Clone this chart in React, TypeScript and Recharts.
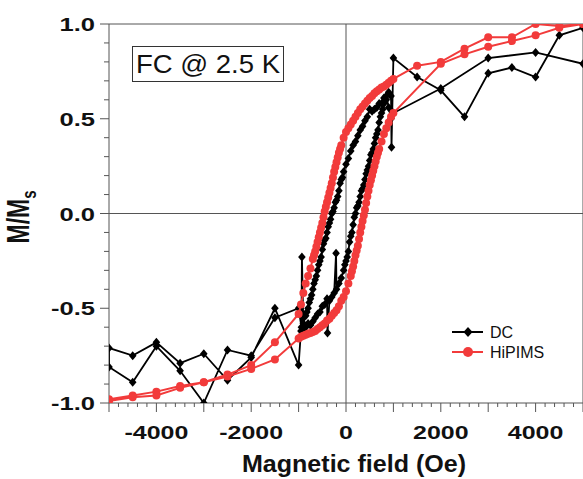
import React from 'react'
import { ScatterChart, Scatter, XAxis, YAxis, ReferenceLine, Legend } from 'recharts'

const RED = '#f23b3b'
const AXIS = '#555'
const FONT = '"Liberation Sans", Arial, sans-serif'

// DC film: descending branch (+5000 -> -5000)
const DC_DOWN_H = [5000, 4500, 4000, 3500, 3000, 2500, 2000, 1500, 1000, 960, 950, 900, 850, 800, 750, 700, 650, 600, 550, 500, 450, 400, 350, 300, 250, 200, 150, 100, 50, 0, -50, -75, -100, -125, -150, -175, -200, -225, -250, -275, -300, -325, -350, -375, -400, -425, -450, -475, -500, -525, -550, -575, -600, -625, -650, -675, -700, -725, -750, -775, -800, -825, -850, -900, -930, -940, -1000, -1500, -2000, -2500, -3000, -3500, -4000, -4500, -5000]
const DC_DOWN_M = [0.98, 0.94, 0.72, 0.77, 0.74, 0.51, 0.65, 0.72, 0.82, 0.35, 0.62, 0.64, 0.6, 0.61, 0.58, 0.58, 0.56, 0.55, 0.54, 0.55, 0.51, 0.49, 0.46, 0.44, 0.41, 0.38, 0.36, 0.33, 0.29, 0.26, 0.22, 0.19, 0.18, 0.16, 0.12, 0.09, 0.07, 0.06, 0.03, 0.01, 0.0, -0.03, -0.05, -0.07, -0.1, -0.13, -0.14, -0.16, -0.19, -0.23, -0.25, -0.27, -0.3, -0.33, -0.35, -0.37, -0.4, -0.43, -0.45, -0.47, -0.5, -0.52, -0.54, -0.58, -0.23, -0.6, -0.5, -0.55, -0.75, -0.72, -1.0, -0.83, -0.7, -0.89, -0.81]
// DC film: ascending branch (-5000 -> +5000)
const DC_UP_H = [-5000, -4500, -4000, -3500, -3000, -2500, -2000, -1500, -1000, -950, -900, -850, -800, -750, -700, -650, -600, -550, -500, -450, -400, -390, -350, -300, -250, -210, -200, -150, -100, -50, -25, 0, 25, 50, 75, 100, 125, 150, 175, 200, 225, 250, 275, 300, 325, 350, 375, 400, 425, 450, 475, 500, 525, 550, 575, 600, 625, 650, 675, 700, 725, 750, 775, 800, 850, 900, 950, 1000, 2000, 3000, 4000, 5000]
const DC_UP_M = [-0.71, -0.75, -0.68, -0.79, -0.74, -0.88, -0.76, -0.5, -0.8, -0.62, -0.61, -0.6, -0.58, -0.59, -0.57, -0.55, -0.53, -0.52, -0.49, -0.48, -0.45, -0.63, -0.46, -0.44, -0.42, -0.21, -0.4, -0.37, -0.34, -0.3, -0.27, -0.25, -0.23, -0.2, -0.15, -0.12, -0.1, -0.06, -0.02, 0.0, 0.03, 0.04, 0.06, 0.09, 0.12, 0.13, 0.15, 0.18, 0.21, 0.23, 0.25, 0.28, 0.31, 0.32, 0.34, 0.37, 0.4, 0.42, 0.44, 0.48, 0.51, 0.53, 0.55, 0.58, 0.62, 0.56, 0.5, 0.53, 0.66, 0.82, 0.85, 0.79]

// HiPIMS film: descending branch
const HI_DOWN_H = [5000, 4500, 4000, 3500, 3000, 2500, 2000, 1500, 1000, 950, 900, 850, 800, 750, 700, 650, 600, 550, 500, 450, 400, 350, 300, 250, 200, 150, 100, 50, 0, -50, -100, -125, -150, -175, -200, -225, -250, -275, -300, -325, -350, -375, -400, -425, -450, -475, -500, -525, -550, -575, -600, -625, -650, -675, -700, -750, -800, -850, -900, -950, -1000, -1500, -2000, -2500, -3000, -3500, -4000, -4500, -5000]
const HI_DOWN_M = [1.0, 0.99, 1.0, 0.93, 0.93, 0.87, 0.8, 0.78, 0.71, 0.7, 0.69, 0.68, 0.67, 0.665, 0.655, 0.645, 0.635, 0.62, 0.61, 0.595, 0.58, 0.565, 0.55, 0.53, 0.51, 0.49, 0.47, 0.45, 0.43, 0.4, 0.36, 0.34, 0.32, 0.295, 0.27, 0.245, 0.22, 0.19, 0.16, 0.135, 0.11, 0.085, 0.06, 0.035, 0.01, -0.02, -0.05, -0.075, -0.1, -0.125, -0.15, -0.175, -0.2, -0.22, -0.24, -0.29, -0.33, -0.37, -0.42, -0.48, -0.53, -0.68, -0.8, -0.85, -0.89, -0.91, -0.94, -0.96, -0.98]
// HiPIMS film: ascending branch
const HI_UP_H = [-5000, -4500, -4000, -3500, -3000, -2500, -2000, -1500, -1000, -950, -900, -850, -800, -750, -700, -650, -600, -550, -500, -450, -400, -350, -300, -250, -200, -150, -100, -50, 0, 50, 100, 125, 150, 175, 200, 225, 250, 275, 300, 325, 350, 375, 400, 425, 450, 475, 500, 525, 550, 575, 600, 625, 650, 675, 700, 750, 800, 850, 900, 950, 1000, 2000, 2500, 3000, 3500, 4000, 4500, 5000]
const HI_UP_M = [-0.99, -0.97, -0.96, -0.92, -0.89, -0.86, -0.82, -0.77, -0.66, -0.65, -0.645, -0.64, -0.635, -0.63, -0.625, -0.62, -0.61, -0.6, -0.59, -0.58, -0.565, -0.555, -0.54, -0.525, -0.51, -0.49, -0.46, -0.44, -0.41, -0.37, -0.33, -0.305, -0.28, -0.25, -0.22, -0.195, -0.17, -0.135, -0.1, -0.07, -0.04, -0.01, 0.02, 0.055, 0.09, 0.12, 0.15, 0.175, 0.2, 0.225, 0.25, 0.275, 0.3, 0.32, 0.34, 0.38, 0.42, 0.45, 0.48, 0.51, 0.53, 0.79, 0.84, 0.88, 0.91, 0.94, 0.98, 1.0]

const X_LABELS = [-4000, -2000, 0, 2000, 4000]
const X_TICKS = Array.from({ length: 51 }, (_, i) => -5000 + i * 200)
const Y_TICKS = [-1, -0.9, -0.8, -0.7, -0.6, -0.5, -0.4, -0.3, -0.2, -0.1, 0, 0.1, 0.2, 0.3, 0.4, 0.5, 0.6, 0.7, 0.8, 0.9, 1]
const Y_LABELS = [-1, -0.5, 0, 0.5, 1]

const zip = (h: number[], m: number[]) => h.map((x, i) => ({ x, y: m[i] }))
const dcData = [...zip(DC_DOWN_H, DC_DOWN_M), ...zip(DC_UP_H, DC_UP_M)]
const hiData = [...zip(HI_DOWN_H, HI_DOWN_M), ...zip(HI_UP_H, HI_UP_M)]

const diamond = (cx: number, cy: number, w: number, h: number) =>
  `M${cx},${cy - h}L${cx + w},${cy}L${cx},${cy + h}L${cx - w},${cy}Z`

const DcMark = (p: any) => <path d={diamond(p.cx, p.cy, 3.8, 4.5)} fill="#000" />
const HiMark = (p: any) => <circle cx={p.cx} cy={p.cy} r={4} fill={RED} />

const XTick = ({ x, y, payload }: any) => {
  const v = payload.value
  const major = v % 1000 === 0
  return (
    <g>
      <line x1={x} x2={x} y1={y} y2={y + (major ? 9 : 4)} stroke={AXIS} />
      {X_LABELS.includes(v) && (
        <text transform={`translate(${x},${y + 36}) scale(1.35,1)`} textAnchor="middle"
          fontSize={18.5} fontWeight="bold" fill="#111" fontFamily={FONT}>
          {v}
        </text>
      )}
    </g>
  )
}

const YTick = ({ x, y, payload }: any) => {
  const v = payload.value
  const major = Y_LABELS.some(l => Math.abs(l - v) < 1e-6)
  return (
    <g>
      <line x1={x - (major ? 9 : 5)} x2={x} y1={y} y2={y} stroke={AXIS} />
      {major && (
        <text transform={`translate(${x - 14},${y + 7}) scale(1.38,1)`} textAnchor="end"
          fontSize={18.5} fontWeight="bold" fill="#111" fontFamily={FONT}>
          {v.toFixed(1)}
        </text>
      )}
    </g>
  )
}

const SERIES = [
  { name: 'DC', color: '#000' },
  { name: 'HiPIMS', color: RED },
]

const renderLegend = () => (
  <svg width={110} height={42}>
    {SERIES.map((s, i) => {
      const cy = 10 + i * 20
      return (
        <g key={s.name}>
          <line x1={4} x2={35} y1={cy} y2={cy} stroke={s.color} strokeWidth={2} />
          {i === 0
            ? <path d={diamond(20, cy, 4.5, 5)} fill={s.color} />
            : <circle cx={20} cy={cy} r={5} fill={s.color} />}
          <text x={42} y={cy + 6} fontSize={16} fill="#111" fontFamily={FONT}>{s.name}</text>
        </g>
      )
    })}
  </svg>
)

export default function App() {
  return (
    <div style={{ position: 'absolute', left: 0, top: 0, width: 583, height: 479, background: '#fff' }}>
      <ScatterChart width={583} height={479} margin={{ top: 24, right: 0, bottom: 0, left: 0 }}
        style={{ fontFamily: FONT }}>
        <XAxis type="number" dataKey="x" domain={[-5000, 5000]} ticks={X_TICKS} interval={0}
          allowDataOverflow height={76} tickSize={0} tickMargin={0} tickLine={false}
          axisLine={{ stroke: AXIS }} tick={(p: any) => <XTick {...p} />} />
        <YAxis type="number" dataKey="y" domain={[-1, 1]} ticks={Y_TICKS} interval={0}
          allowDataOverflow width={109} tickSize={0} tickMargin={0} tickLine={false}
          axisLine={{ stroke: AXIS }} tick={(p: any) => <YTick {...p} />} />
        <ReferenceLine y={0} stroke={AXIS} />
        <ReferenceLine x={0} stroke={AXIS} />
        <ReferenceLine y={1} stroke={AXIS} />
        <ReferenceLine x={5000} stroke={AXIS} />
        <Legend layout="horizontal" verticalAlign="middle" content={renderLegend}
          wrapperStyle={{ position: 'absolute', left: 448, top: 322, width: 110, height: 42 }} />
        <Scatter name="DC" data={dcData} fill="#000" line={{ stroke: '#000', strokeWidth: 1.8 }}
          lineType="joint" shape={DcMark} isAnimationActive={false} />
        <Scatter name="HiPIMS" data={hiData} fill={RED} line={{ stroke: RED, strokeWidth: 2 }}
          lineType="joint" shape={HiMark} isAnimationActive={false} />
      </ScatterChart>
      <svg width={583} height={479} style={{ position: 'absolute', left: 0, top: 0, pointerEvents: 'none' }}>
        <rect x={132.5} y={46.5} width={151} height={35} fill="#fff" stroke="#333" />
        <text transform="translate(136,73) scale(1.1,1)" fontSize={25} fill="#111" fontFamily={FONT}>
          FC @ 2.5 K
        </text>
        <text transform="translate(354,472) scale(1.09,1)" textAnchor="middle" fontSize={23}
          fontWeight="bold" fill="#111" fontFamily={FONT}>
          Magnetic field (Oe)
        </text>
        <text transform="translate(29,217) scale(1.33,1) rotate(-90)" textAnchor="middle" fontSize={23}
          fontWeight="bold" fill="#111" fontFamily={FONT}>
          M/M<tspan fontSize={15} dy={5}>s</tspan>
        </text>
      </svg>
    </div>
  )
}
